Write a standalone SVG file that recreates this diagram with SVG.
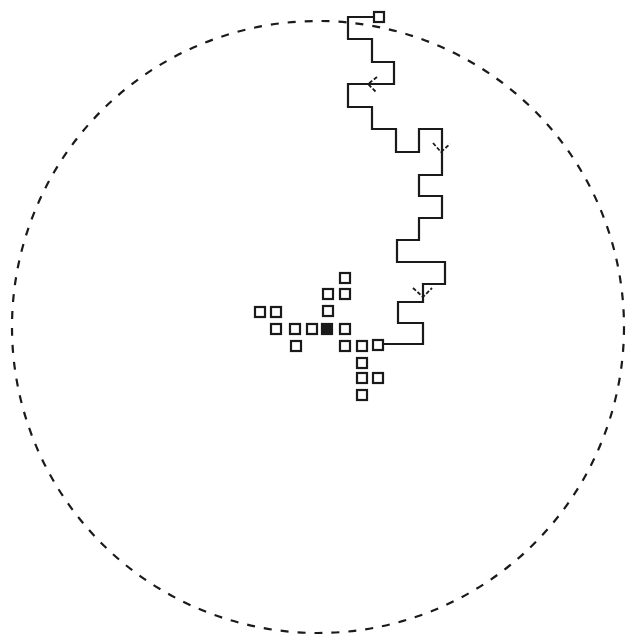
<svg xmlns="http://www.w3.org/2000/svg" width="626" height="636" viewBox="0 0 626 636">
<style>
.sq{fill:none;stroke:#1a1a1a;stroke-width:2.2}
.seed{fill:#1a1a1a;stroke:#1a1a1a;stroke-width:2.2}
.walk{fill:none;stroke:#1a1a1a;stroke-width:2.2;stroke-linejoin:miter}
.barb{fill:none;stroke:#1a1a1a;stroke-width:1.8;stroke-dasharray:4 2}
.bound{fill:none;stroke:#1a1a1a;stroke-width:2.2;stroke-dasharray:8 9}
</style>
<rect width="626" height="636" fill="#ffffff"/>
<g id="boundary">
<circle class="bound" cx="318" cy="327" r="306"/>
</g>
<g id="connectors">
<path class="walk" d="M373,17 H348 V39 H372 V62 H394 V84 H348 V107 H372 V129 H396 V152 H419 V129 H442 V175 H419 V196 H442 V218 H419 V240 H397 V262 H445 V284 H423 V302 H398 V323 H423 V344 H384"/>
<path class="barb" d="M377,77 L368,84 L376,92"/>
<path class="barb" d="M433,143 L441,152 L450,144"/>
<path class="barb" d="M413,288 L423,297 L432,288"/>
</g>
<g id="walker-start"><rect class="sq" x="374" y="12" width="10" height="10"/></g>
<g id="walker-end"><rect class="sq" x="373" y="340" width="10" height="10"/></g>
<g id="seed"><rect class="seed" x="322" y="324" width="10" height="10"/></g>
<g id="cluster">
<rect class="sq" x="340" y="273" width="10" height="10"/>
<rect class="sq" x="323" y="289" width="10" height="10"/>
<rect class="sq" x="340" y="289" width="10" height="10"/>
<rect class="sq" x="323" y="306" width="10" height="10"/>
<rect class="sq" x="255" y="307" width="10" height="10"/>
<rect class="sq" x="271" y="307" width="10" height="10"/>
<rect class="sq" x="271" y="324" width="10" height="10"/>
<rect class="sq" x="290" y="324" width="10" height="10"/>
<rect class="sq" x="307" y="324" width="10" height="10"/>
<rect class="sq" x="340" y="324" width="10" height="10"/>
<rect class="sq" x="291" y="341" width="10" height="10"/>
<rect class="sq" x="340" y="341" width="10" height="10"/>
<rect class="sq" x="357" y="341" width="10" height="10"/>
<rect class="sq" x="357" y="358" width="10" height="10"/>
<rect class="sq" x="357" y="373" width="10" height="10"/>
<rect class="sq" x="373" y="373" width="10" height="10"/>
<rect class="sq" x="357" y="390" width="10" height="10"/>
</g>
</svg>
